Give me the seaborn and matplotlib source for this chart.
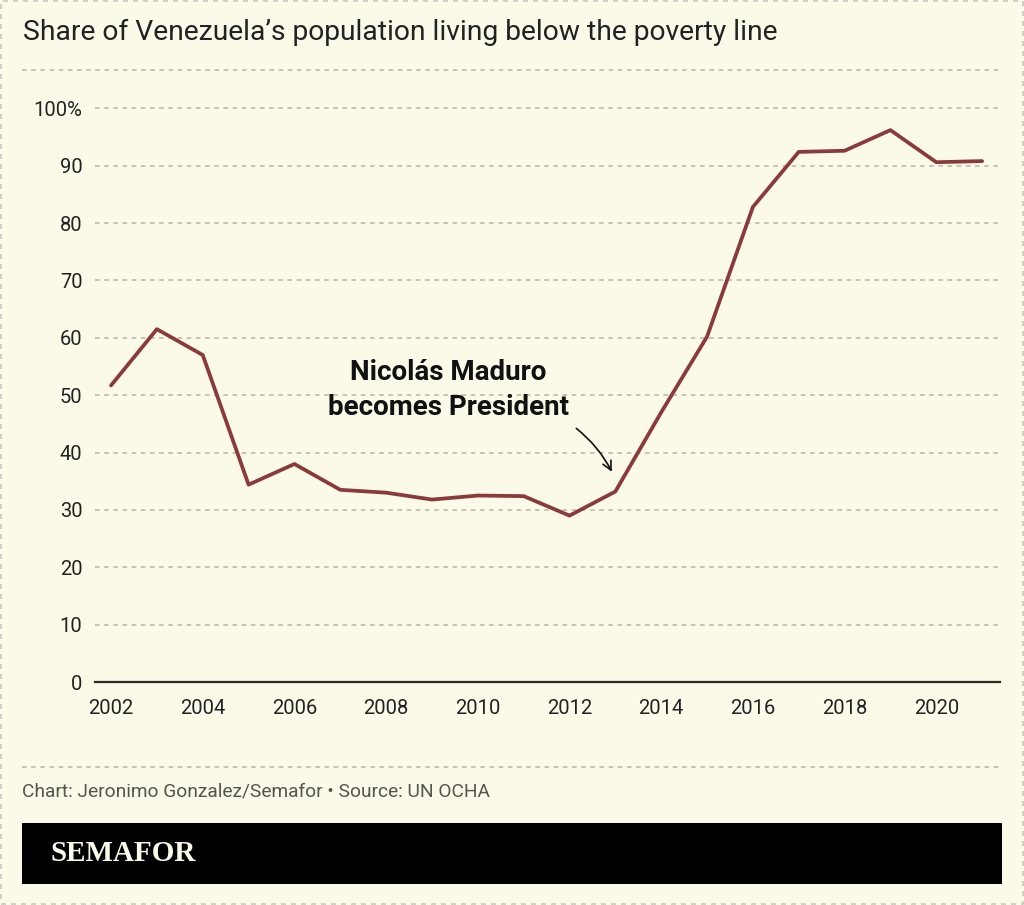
import matplotlib
matplotlib.use("Agg")
import matplotlib.pyplot as plt
import seaborn as sns
import pandas as pd
from matplotlib.patches import Rectangle
from matplotlib.lines import Line2D

years = list(range(2002, 2022))
poverty = [51.7, 61.5, 57.0, 34.4, 38.0, 33.5, 33.0, 31.8, 32.5, 32.4,
           29.0, 33.2, 47.0, 60.2, 82.8, 92.4, 92.6, 96.2, 90.6, 90.8]
yticks = [0, 10, 20, 30, 40, 50, 60, 70, 80, 90, 100]
ytick_labels = ["0", "10", "20", "30", "40", "50", "60", "70", "80", "90", "100%"]
xticks = list(range(2002, 2021, 2))

title = "Share of Venezuela\u2019s population living below the poverty line"
source = "Chart: Jeronimo Gonzalez/Semafor \u2022 Source: UN OCHA"
annotation = "Nicol\u00e1s Maduro\nbecomes President"

BG = "#FBF9E8"
LINE = "#8A3A3A"
TEXT = "#222222"
GRID = "#B5B5A6"

sns.set_theme(style="white")
plt.rcParams['font.family'] = ['Roboto', 'DejaVu Sans']

df = pd.DataFrame({"year": years, "poverty": poverty})

W, H = 1024, 905
fig = plt.figure(figsize=(W / 100, H / 100), dpi=100)
fig.patch.set_facecolor(BG)
ax = fig.add_axes([95 / W, (H - 682) / H, 905 / W, 576 / H])
ax.set_facecolor(BG)

sns.lineplot(data=df, x="year", y="poverty", ax=ax, color=LINE, linewidth=2.7)

ax.set_xlim(2001.65, 2021.39)
ax.set_ylim(0, 100.4)
ax.set_yticks(yticks)
ax.set_yticklabels(ytick_labels)
ax.set_xticks(xticks)
ax.set_xticklabels([str(x) for x in xticks])
ax.set_xlabel("")
ax.set_ylabel("")
for s in ["top", "right", "left"]:
    ax.spines[s].set_visible(False)
ax.spines["bottom"].set_color("#2a2a22")
ax.spines["bottom"].set_linewidth(1.6)
ax.tick_params(axis="y", length=0, pad=9, labelsize=14.5, labelcolor=TEXT)
ax.tick_params(axis="x", length=0, pad=12, labelsize=14.5, labelcolor=TEXT)
for y in yticks[1:]:
    ax.axhline(y, color=GRID, linewidth=1.1, linestyle=(0, (3, 3)), zorder=0)

ax.text(2009.35, 50.9, annotation, ha="center", va="center", fontsize=20,
        fontweight="bold", color="#111111", linespacing=1.4)
ax.annotate("", xy=(2012.95, 36.2), xytext=(2012.1, 44.5),
            arrowprops=dict(arrowstyle="->", color="#111111", lw=1.2,
                            connectionstyle="arc3,rad=-0.12", mutation_scale=16))

# title & separators
fig.text(23 / W, 1 - 32 / H, title, ha="left", va="center", fontsize=20.3, color=TEXT)
fig.add_artist(Line2D([22 / W, 1002 / W], [1 - 70 / H] * 2, color=GRID, lw=1.1,
                      linestyle=(0, (3, 3)), transform=fig.transFigure))
fig.add_artist(Line2D([22 / W, 1002 / W], [1 - 767 / H] * 2, color=GRID, lw=1.1,
                      linestyle=(0, (3, 3)), transform=fig.transFigure))
fig.text(22 / W, 1 - 791 / H, source, ha="left", va="center", fontsize=13.8, color="#555550")

# footer black band
fig.add_artist(Rectangle((22 / W, 1 - 884 / H), 980 / W, 61 / H, transform=fig.transFigure,
                         facecolor="black", edgecolor="none"))
fig.text(50 / W, 1 - 853 / H, "SEMAFOR", ha="left", va="center", fontsize=21,
         fontweight="bold", family=["Liberation Serif", "DejaVu Serif"], color=BG)

# outer dashed border
fig.add_artist(Rectangle((1 / W, 1 / H), (W - 2) / W, (H - 2) / H, transform=fig.transFigure,
                         facecolor="none", edgecolor="#C8C8C0", lw=1.2, linestyle=(0, (3, 3))))

fig.savefig("out.png", dpi=100, facecolor=BG)
